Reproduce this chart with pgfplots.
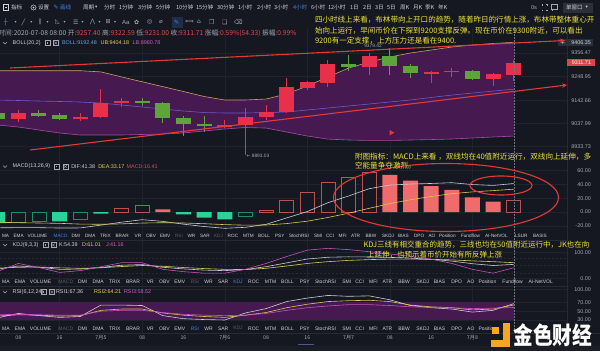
\documentclass[border=0pt]{standalone}
\usepackage{pgfplots}
\usepackage{pgfplotstable}
\pgfplotsset{compat=1.18}
\usepgfplotslibrary{fillbetween}
\usetikzlibrary{arrows.meta}
\usepackage{graphicx}
\usepackage{fontspec}
\setmainfont{Liberation Sans}
\newfontfamily\cjk{Noto Sans CJK SC}
\newfontfamily\sym{DejaVu Sans}
\newcommand{\fs}[1]{\fontsize{#1}{#1}\selectfont}
\definecolor{bg}{HTML}{151820}
\definecolor{gridc}{HTML}{1F232D}
\definecolor{sepc}{HTML}{262A35}
\definecolor{txt}{HTML}{A4A8B3}
\definecolor{txtw}{HTML}{CDD0D8}
\definecolor{dim}{HTML}{5A5E6A}
\definecolor{sel}{HTML}{4182E6}
\definecolor{upc}{HTML}{E8304A}
\definecolor{dnc}{HTML}{5DA43B}
\definecolor{bandc}{HTML}{461951}
\definecolor{ubc}{HTML}{C9A063}
\definecolor{midc}{HTML}{6A5CC8}
\definecolor{lbc}{HTML}{A84AA8}
\definecolor{difc}{HTML}{C9CBD6}
\definecolor{deac}{HTML}{D9C95C}
\definecolor{jc}{HTML}{C650B8}
\definecolor{hgf}{HTML}{2BD39A}
\definecolor{hgo}{HTML}{1E8C66}
\definecolor{hrf}{HTML}{F06B6B}
\definecolor{hro}{HTML}{B45552}
\definecolor{annc}{HTML}{EDE43C}
\definecolor{annr}{HTML}{E23A3A}
\definecolor{infr}{HTML}{E8474F}
\definecolor{bollb}{HTML}{62A3E0}
\definecolor{ubt}{HTML}{E6D24A}
\definecolor{lbt}{HTML}{D058C8}
\definecolor{boxg}{HTML}{2B2F3A}
\definecolor{logo}{HTML}{F5A623}
\definecolor{crossc}{HTML}{70747E}
\definecolor{stbar}{HTML}{1A1D26}
\definecolor{scrl}{HTML}{4E5A8C}
\definecolor{selbg}{HTML}{1E2D48}
\definecolor{redbox}{HTML}{D9444F}
\pagecolor{bg}

\pgfplotstableread{
k ub mid lb
0 9276 9143.7 9030.8
1 9276 9141.4 9021.8
2 9276 9139 9008
3 9276 9137 8994.7
4 9276 9134.6 8985.6
5 9270.6 9130 8985.6
6 9248 9121 8985.6
7 9226 9112 8988
8 9204 9103 8990
9 9182 9094 8994.7
10 9159.5 9087 9003.7
11 9143.7 9085 9012.7
12 9143.7 9085 9019.5
13 9148 9087 9017
14 9170.8 9089.5 8999
15 9207 9098.6 8981
16 9247.6 9107.6 8967
17 9288 9116.6 8963
18 9315 9125.6 8961
19 9338 9134.7 8961
20 9356 9143.7 8963
21 9369.5 9155 8965
22 9383 9166 8967.6
23 9392 9175 8972
24 9399 9184 8976.6
25 9404.18 9192.48 8980.78
}\bolltab

\pgfplotsset{
 pane/.style={
  scale only axis, width=567pt, xmin=0.1114, xmax=27.58,
  anchor=north west,
  axis line style={draw=none}, tick style={draw=none},
  major grid style={draw=gridc, line width=0.5pt},
  xtick={3,7,11,15,19,23}, xticklabels={}, xmajorgrids, ymajorgrids,
  scaled y ticks=false,
  yticklabel pos=right,
  yticklabel style={font=\fs{5.4}, text=txt, anchor=east, inner sep=0pt, xshift=24pt},
 },
}

\newcommand{\icn}[2]{\draw[txt, line width=0.4pt] (#1,#2-2.6) rectangle (#1+5.2,#2+2.6); \fill[txt] (#1+1.8,#2-0.8) rectangle (#1+3.4,#2+0.8);}
\newcommand{\icx}[2]{\draw[txt, line width=0.4pt] (#1,#2-2.6) rectangle (#1+5.2,#2+2.6); \draw[txt, line width=0.4pt] (#1+1.2,#2-1.4)--(#1+4,#2+1.4) (#1+1.2,#2+1.4)--(#1+4,#2-1.4);}
\newcommand{\chev}[1]{\draw[txt, line width=0.5pt] (3,#1-1)--(5,#1+1)--(7,#1-1);}

\begin{document}
\begin{tikzpicture}

% ===== main price pane =====
\begin{axis}[pane, at={(0pt,-28pt)}, height=130pt, ymin=8881.7, ymax=9468.9,
 ytick={8933.73,9037.99,9142.66,9248.95,9356.47},
 yticklabels={8933.73,9037.99,9142.66,9248.95,9356.47}]
\addplot[draw=none, name path=ub] table[x=k, y=ub] {\bolltab};
\addplot[draw=none, name path=lb] table[x=k, y=lb] {\bolltab};
\addplot[fill=bandc, draw=none] fill between[of=ub and lb];
\addplot[ubc, line width=0.6pt] table[x=k, y=ub] {\bolltab};
\addplot[lbc, line width=0.6pt] table[x=k, y=lb] {\bolltab};
\addplot[midc, line width=0.6pt] table[x=k, y=mid] {\bolltab};
% wicks
\addplot[upc, line width=1pt, unbounded coords=jump] coordinates {(1,9046)(1,9099)(1,nan)(4,9049)(4,9085)(4,nan)(5,9064)(5,9192)(5,nan)(6,9113)(6,9151)(6,nan)(11,9016)(11,9053)(11,nan)(12,8893.03)(12,9106)(12,nan)(13,9053)(13,9120)(13,nan)(14,9086)(14,9242)(14,nan)(15,9190)(15,9230)(15,nan)(16,9204)(16,9324)(16,nan)(18,9257)(18,9357)(18,nan)(21,9221)(21,9275)(21,nan)(22,9246)(22,9290)(22,nan)(24,9206)(24,9264)(24,nan)(25,9231.00)(25,9322.59)};
\addplot[dnc, line width=1pt, unbounded coords=jump] coordinates {(0,9052)(0,9090)(0,nan)(2,9067)(2,9098)(2,nan)(3,9053)(3,9086)(3,nan)(7,9118)(7,9151)(7,nan)(8,9041)(8,9133)(8,nan)(9,8981)(9,9071)(9,nan)(10,9000)(10,9071)(10,nan)(17,9274)(17,9347)(17,nan)(19,9257)(19,9379.42)(19,nan)(20,9242)(20,9306)(20,nan)(23,9235)(23,9280)};
% bodies
\addplot[upc, line width=15pt, unbounded coords=jump] coordinates {(1,9056)(1,9086)(1,nan)(4,9058)(4,9068)(4,nan)(5,9066)(5,9131)(5,nan)(6,9129)(6,9140)(6,nan)(11,9020)(11,9029)(11,nan)(12,9031)(12,9068)(12,nan)(13,9068)(13,9089)(13,nan)(14,9088)(14,9204)(14,nan)(15,9197)(15,9226)(15,nan)(16,9222)(16,9306)(16,nan)(18,9291)(18,9344)(18,nan)(21,9262)(21,9271)(21,nan)(22,9270)(22,9275)(22,nan)(24,9237)(24,9260)(24,nan)(25,9257.40)(25,9311.71)};
\addplot[dnc, line width=15pt, unbounded coords=jump] coordinates {(0,9086)(0,9056)(0,nan)(2,9086)(2,9071)(2,nan)(3,9076)(3,9058)(3,nan)(7,9139)(7,9129)(7,nan)(8,9131)(8,9061)(8,nan)(9,9064)(9,9035)(9,nan)(10,9035)(10,9026)(10,nan)(17,9306)(17,9291)(17,nan)(19,9344)(19,9297)(19,nan)(20,9297)(20,9264)(20,nan)(23,9275)(23,9237)};
\end{axis}

% ===== MACD pane =====
\begin{axis}[pane, at={(0pt,-158pt)}, height=82pt, ymin=-40.7, ymax=78.5,
 ytick={-20,0,20,40,60}, yticklabels={-20.00,0.00,20.00,40.00,60.00}]
\addplot[ybar, bar width=15pt, bar shift=0pt, fill=hgf, draw=none] coordinates {(0,-16)(3,-13.6)(5,-2.4)(9,-3.4)(10,-8.2)(11,-10.7)};
\addplot[ybar, bar width=14pt, bar shift=0pt, fill=bg, draw=hgo, line width=0.8pt] coordinates {(1,-14.5)(2,-13.6)(4,-11.2)(12,-6.3)};
\addplot[ybar, bar width=15pt, bar shift=0pt, fill=hrf, draw=none] coordinates {(8,3.9)(19,54)(20,45.5)(21,37.8)(22,32)(23,21.3)(24,15)};
\addplot[ybar, bar width=14pt, bar shift=0pt, fill=bg, draw=hro, line width=0.8pt] coordinates {(6,4.85)(7,9.7)(13,1.9)(14,16.5)(15,28)(16,43)(17,50)(18,57)(25,16.41)};
\addplot[difc, line width=0.6pt] coordinates {(0,-23)(1,-22.75)(2,-22.8)(3,-23.3)(4,-23.16)(5,-19.06)(6,-14.82)(7,-11.19)(8,-13.6)(9,-17.68)(10,-21.1)(11,-23.69)(12,-22.28)(13,-17.94)(14,-8.58)(15,0.67)(16,13.54)(17,23.29)(18,33.92)(19,39.17)(20,40.61)(21,41.49)(22,42.59)(23,39.9)(24,38.62)(25,41.38)};
\addplot[deac, line width=0.6pt] coordinates {(0,-15)(1,-15.5)(2,-16)(3,-16.5)(4,-17.56)(5,-17.86)(6,-17.25)(7,-16.04)(8,-15.55)(9,-15.98)(10,-17.0)(11,-18.34)(12,-19.13)(13,-18.89)(14,-16.83)(15,-13.33)(16,-7.96)(17,-1.71)(18,5.42)(19,12.17)(20,17.86)(21,22.59)(22,26.59)(23,29.25)(24,31.12)(25,33.17)};
\end{axis}

% ===== KDJ pane =====
\begin{axis}[pane, at={(0pt,-240pt)}, height=46pt, ymin=-30.1, ymax=149.6,
 ytick={0,100}, yticklabels={0.00,100.00},
 extra y ticks={20,50,80}, extra y tick labels={},
 extra y tick style={grid=major, major grid style={draw=sepc, dash pattern=on 2pt off 2pt, line width=0.5pt}}]
\addplot[difc, line width=0.6pt] coordinates {(0,35.7)(1,48)(2,43.3)(3,35)(4,36)(5,42.3)(6,51)(7,53.7)(8,43)(9,36.7)(10,32)(11,30)(12,34.3)(13,45.3)(14,60.3)(15,75.3)(16,82.3)(17,84)(18,83.3)(19,81.7)(20,78.7)(21,74.3)(22,67.3)(23,57)(24,50)(25,54.39)};
\addplot[deac, line width=0.6pt] coordinates {(0,40)(1,43)(2,44)(3,41)(4,39)(5,41)(6,46)(7,50)(8,47)(9,42)(10,38)(11,35)(12,34)(13,39)(14,48)(15,58)(16,65)(17,70)(18,73)(19,75)(20,75)(21,74)(22,72)(23,68)(24,65)(25,61.01)};
\addplot[jc, line width=0.6pt] coordinates {(0,27)(1,58)(2,42)(3,23)(4,30)(5,45)(6,61)(7,61)(8,35)(9,26)(10,20)(11,20)(12,35)(13,58)(14,85)(15,110)(16,117)(17,112)(18,104)(19,95)(20,86)(21,75)(22,58)(23,35)(24,20)(25,41.16)};
\end{axis}

% ===== RSI pane =====
\begin{axis}[pane, at={(0pt,-286pt)}, height=47pt, ymin=0.36, ymax=107.5,
 ytick={30,50,70,100}, yticklabels={30.00,50.00,70.00,100.00},
 xtick={1,3,...,23}, xticklabels={08,16,7月5,08,16,7月6,08,16,7月7,08,16,7月8},
 xmajorgrids=false,
 extra x ticks={3,7,11,15,19,23}, extra x tick labels={}, extra x tick style={grid=major},
 xticklabel style={font=\cjk\fs{5.2}, text=txt, inner sep=0pt, yshift=-2.5pt}]
\addplot[fill=bandc, draw=none] coordinates {(0,30)(25,30)(25,70)(0,70)};
\addplot[difc, line width=0.6pt] coordinates {(0,35)(1,45)(2,40)(3,36)(4,38)(5,64)(6,64)(7,63)(8,40)(9,33)(10,31)(11,30)(12,46)(13,56)(14,72)(15,80)(16,86)(17,84)(18,85)(19,76)(20,63)(21,58)(22,55)(23,48)(24,52)(25,67.36)};
\addplot[deac, line width=0.6pt] coordinates {(0,39)(1,42)(2,41)(3,39)(4,40)(5,52)(6,55)(7,55)(8,46)(9,41)(10,38)(11,36)(12,41)(13,47)(14,58)(15,66)(16,72)(17,74)(18,75)(19,72)(20,64)(21,60)(22,58)(23,53)(24,55)(25,64.21)};
\addplot[jc, line width=0.6pt] coordinates {(0,42)(1,43)(2,42)(3,41)(4,41)(5,50)(6,52)(7,52)(8,47)(9,43)(10,41)(11,40)(12,41)(13,45)(14,52)(15,58)(16,62)(17,65)(18,65)(19,63)(20,60)(21,59)(22,58)(23,56)(24,57)(25,58.52)};
\end{axis}

% ===== overlays in pixel coordinates =====
\begin{scope}[x=1pt, y=-1pt, every node/.style={inner sep=0pt, outer sep=0pt}]
% separators
\draw[sepc, line width=0.5pt] (0,240.5)--(567,240.5) (0,286.5)--(567,286.5) (0,333.5)--(600,333.5);
\draw[sepc, line width=0.5pt] (567.5,28)--(567.5,333);
\fill[stbar] (0,345.5) rectangle (600,351);
\draw[scrl, line width=1pt] (298,344.5)--(314,344.5);
% crosshair
\draw[crossc, dash pattern=on 1.5pt off 1.5pt, line width=0.5pt] (514.7,28)--(514.7,333);

% toolbar row 1
\draw[txtw, line width=0.5pt] (3.5,4.5) rectangle (8.5,10.5); \draw[txtw, line width=0.4pt] (5,7.5)--(7,7.5);
\node[anchor=west, font=\cjk\fs{5.6}, text=txtw] at (11,7.5) {指标};
\draw[txtw, line width=0.5pt] (33.5,7.5) circle (2.6pt); \fill[txtw] (33.5,7.5) circle (1pt);
\node[anchor=west, font=\cjk\fs{5.6}, text=txtw] at (38,7.5) {设置};
\node[anchor=west, font=\sym\fs{6}, text=sel] at (53.5,7.5) {✎};
\node[anchor=west, font=\cjk\fs{5.6}, text=sel] at (60,7.5) {画线};
\node[anchor=west, font=\cjk\fs{5.6}, text=txtw] at (83,7.5) {周期};
\node[anchor=west, font=\sym\fs{4.5}, text=txtw] at (95,7.8) {▾};
\foreach \w/\x in {分时/104, 1分钟/119, 3分钟/138, 5分钟/156, 10分钟/176, 15分钟/196, 30分钟/217, 1小时/238, 2小时/257, 3小时/274, 6小时/311, 12小时/328, 1日/350, 2日/363, 3日/375, 5日/387, 周K/400, 月K/413, 季K/425, 年K/438}
  \node[anchor=west, font=\cjk\fs{5.6}, text=txtw] at (\x,7.5) {\w};
\node[anchor=west, font=\cjk\fs{5.6}, text=sel] at (293,7.5) {4小时};
\node[anchor=west, font=\fs{5.6}, text=txt] at (531,7.5) {0s};
\draw[txt, line width=0.5pt] (542,5)--(542,4.5)--(543,4.5) (546,4.5)--(547,4.5)--(547,5) (547,10)--(547,10.5)--(546,10.5) (543,10.5)--(542,10.5)--(542,10);
\draw[txt, line width=0.5pt] (551,4.5) rectangle (557,9.5) (552.5,9.5)--(552.5,11);
\fill[boxg] (563,2.5) rectangle (593,12.5);
\node[anchor=west, font=\cjk\fs{5.6}, text=txtw] at (566,7.5) {单窗口};
\node[anchor=west, font=\sym\fs{4.5}, text=txtw] at (585.5,7.8) {▾};

% toolbar row 2
\fill[selbg] (172,16.5) rectangle (183,27.5);
\node[anchor=west, font=\sym\fs{6.5}, text=sel] at (4,22) {┼};
\foreach \g/\x in {╱/21.5, ∥/38.5, ◺/55, ☰/73, ⋀/90, ⊞/105.5, ✿/134, ◎/147, ⌀/159, ⟺/185, ⌂/197, ❐/209, ❏/222, ⌫/234}
  \node[anchor=west, font=\sym\fs{6}, text=txt] at (\x,22) {\g};
\node[anchor=west, font=\sym\fs{6}, text=sel] at (174,22) {✎};
\node[anchor=west, font=\fs{6}, text=txt] at (122,22) {Aa};
\foreach \x in {14.5,30.5,46.5,63.5,81.5,98.5,114}
  \node[anchor=west, font=\sym\fs{4}, text=txt] at (\x,22.5) {▾};

% info line
\node[anchor=west, font=\cjk\fs{6.7}, text=txt] at (-1.5,33) {时间:2020-07-08 08:00 开:\textcolor{infr}{9257.40} 高:\textcolor{infr}{9322.59} 低:\textcolor{infr}{9231.00} 收:\textcolor{infr}{9311.71} 涨幅:\textcolor{infr}{0.59\%(54.33)} 振幅:\textcolor{infr}{0.99\%}};

% BOLL label
\chev{43}
\node[anchor=west, font=\fs{5.4}, text=txtw] at (12.7,43) {BOLL(20,2)};
\icn{45}{43} \icx{53}{43}
\node[anchor=west, font=\fs{5.4}, text=bollb] at (62,43) {BOLL:9192.48};
\node[anchor=west, font=\fs{5.4}, text=ubt] at (100.7,43) {UB:9404.18};
\node[anchor=west, font=\fs{5.4}, text=lbt] at (132.7,43) {LB:8980.78};

% price markers
\node[font=\fs{4.8}, text=txt] at (373,46.3) {9379.42};
\node[anchor=west, font=\fs{4.8}, text=txt] at (246.5,156) {{\sym←} 8893.03};
\fill[boxg] (558,39) rectangle (593,45.8);
\node[anchor=west, font=\sym\fs{5.5}, text=txtw] at (560.5,42.3) {+};
\node[anchor=east, font=\fs{5.4}, text=txtw] at (591,42.4) {9406.35};
\fill[redbox] (566.7,59.3) rectangle (595,66.1);
\node[anchor=east, font=\fs{5.4}, text=white] at (591,62.7) {9311.71};

% annotation lines
\draw[annr, line width=1.1pt, -{Stealth[length=5pt,width=4.5pt]}] (10,68)--(565,40.5);
\draw[annr, line width=1.1pt, -{Stealth[length=5pt,width=4.5pt]}] (30,150)--(567,85);
\fill[annr] (389.5,130)--(394.5,132.7)--(389.5,135.4)--cycle;
\draw[annr, line width=1.1pt] (446,197.5) ellipse [x radius=112.5pt, y radius=34pt];
\draw[annr, line width=1.1pt] (501,185.5) ellipse [x radius=31pt, y radius=9.5pt];

% MACD label
\chev{166.5}
\node[anchor=west, font=\fs{5.4}, text=txtw] at (12.7,166.5) {MACD(13,26,9)};
\icn{54}{166.5} \icx{62.7}{166.5}
\node[anchor=west, font=\fs{5.4}, text=txtw] at (71.3,166.5) {DIF:41.38};
\node[anchor=west, font=\fs{5.4}, text=ubt] at (98.3,166.5) {DEA:33.17};
\node[anchor=west, font=\fs{5.4}, text=infr] at (126.7,166.5) {MACD:16.41};

% KDJ label
\chev{245}
\node[anchor=west, font=\fs{5.4}, text=txtw] at (12.7,245) {KDJ(9,3,3)};
\icn{42.7}{245} \icx{50.7}{245}
\node[anchor=west, font=\fs{5.4}, text=txtw] at (59,245) {K:54.39};
\node[anchor=west, font=\fs{5.4}, text=ubt] at (82,245) {D:61.01};
\node[anchor=west, font=\fs{5.4}, text=lbt] at (106,245) {J:41.16};

% RSI label
\chev{292}
\node[anchor=west, font=\fs{5.4}, text=txtw] at (12.7,292) {RSI(6,12,24)};
\icn{40.7}{292} \icx{49.3}{292}
\node[anchor=west, font=\fs{5.4}, text=txtw] at (56,292) {RSI1:67.36};
\node[anchor=west, font=\fs{5.4}, text=ubt] at (94,292) {RSI2:64.21};
\node[anchor=west, font=\fs{5.4}, text=lbt] at (124,292) {RSI3:58.52};

% tab rows
\foreach \w/\x/\c in {MA/2/txtw, EMA/13.5/txtw, VOLUME/27.5/txtw, MACD/53.6/sel, DMI/71.6/txtw, DMA/85/txtw, TRIX/100/txtw, BRAR/115.6/txtw, VR/134.7/txtw, OBV/146/txtw, EMV/160/txtw, RSI/175/dim, WR/187.5/txtw, SAR/200/txtw, KDJ/214/dim, ROC/227.7/txtw, MTM/243/txtw, BOLL/258/txtw, PSY/275/txtw, StochRSI/289/txtw, SMI/314/txtw, CCI/326/txtw, MFI/338.7/txtw, ATR/351/txtw, BBW/365.5/txtw, SKDJ/382/txtw, BIAS/398/txtw, DPO/414/txtw, AO/428.6/txtw, Position/439/txtw, Fundflow/461/txtw, AI-NetVOL/485/txtw, LSUR/515/txtw, BASIS/533/txtw}
  \node[anchor=west, font=\fs{4.7}, text=\c] at (\x,235.5) {\w};
\foreach \w/\x/\c in {MA/2/txtw, EMA/13.5/txtw, VOLUME/27.5/txtw, MACD/53.6/dim, DMI/71.6/txtw, DMA/85/txtw, TRIX/100/txtw, BRAR/115.6/txtw, VR/134.7/txtw, OBV/146/txtw, EMV/160/txtw, RSI/175/dim, WR/187.5/txtw, SAR/200/txtw, KDJ/214/sel, ROC/227.7/txtw, MTM/243/txtw, BOLL/258/txtw, PSY/275/txtw, StochRSI/289/txtw, SMI/314/txtw, CCI/326/txtw, MFI/338.7/txtw, ATR/351/txtw, BBW/365.5/txtw, SKDJ/382/txtw, BIAS/398/txtw, DPO/414/txtw, AO/428.6/txtw, Position/439/txtw, Fundflow/461/txtw, AI-NetVOL/485/txtw}
  \node[anchor=west, font=\fs{5.0}, text=\c] at ({1.09*\x},281.7) {\w};
\foreach \w/\x/\c in {MA/2/txtw, EMA/13.5/txtw, VOLUME/27.5/txtw, MACD/53.6/dim, DMI/71.6/txtw, DMA/85/txtw, TRIX/100/txtw, BRAR/115.6/txtw, VR/134.7/txtw, OBV/146/txtw, EMV/160/txtw, RSI/175/sel, WR/187.5/txtw, SAR/200/txtw, KDJ/214/dim, ROC/227.7/txtw, MTM/243/txtw, BOLL/258/txtw, PSY/275/txtw, StochRSI/289/txtw, SMI/314/txtw, CCI/326/txtw, MFI/338.7/txtw, ATR/351/txtw, BBW/365.5/txtw, SKDJ/382/txtw, BIAS/398/txtw, DPO/414/txtw, AO/428.6/txtw, Position/439/txtw}
  \node[anchor=west, font=\fs{5.0}, text=\c] at ({1.09*\x},328.3) {\w};

% annotation texts
\node[anchor=west, font=\cjk\fs{7.55}, text=annc] at (315,19.3) {四小时线上来看，布林带向上开口的趋势，随着昨日的行情上涨，布林带整体重心开};
\node[anchor=west, font=\cjk\fs{7.55}, text=annc] at (315,30.7) {始向上运行，早间币价在下探到9200支撑反弹。现在币价在9300附近，可以看出};
\node[anchor=west, font=\cjk\fs{7.55}, text=annc] at (315,40.7) {9200有一定支撑，上方压力还是看在9400.};
\node[anchor=west, font=\cjk\fs{7.6}, text=annc] at (355,156.5) {附图指标：MACD上来看 ，双线均在40值附近运行，双线向上延伸，多};
\node[anchor=west, font=\cjk\fs{7.6}, text=annc] at (355,166) {空能量争夺激烈。};
\node[anchor=west, font=\cjk\fs{7.5}, text=annc] at (363.5,245) {KDJ三线有相交重合的趋势，三线也均在50值附近运行中，JK也在向};
\node[anchor=west, font=\cjk\fs{7.5}, text=annc] at (367,254.5) {上延伸，也预示着币价开始有所反弹上涨};

% watermark
\fill[logo] (503,322.5) rectangle (510,347);
\fill[logo] (490.5,340) rectangle (510,347);
\fill[logo] (492,327) rectangle (498.5,334);
\node[anchor=west, font=\cjk\bfseries\fs{24}, text=white] at (513.5,335) {\scalebox{0.82}[1]{金色财经}};
\end{scope}
\pgfresetboundingbox
\path[use as bounding box] (0pt,0pt) rectangle (600pt,-351pt);
\end{tikzpicture}
\end{document}
